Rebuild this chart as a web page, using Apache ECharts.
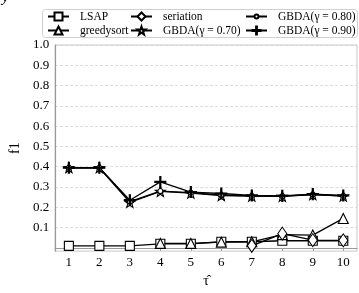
<!DOCTYPE html>
<html><head><meta charset="utf-8">
<script src="https://cdn.jsdelivr.net/npm/echarts@6/dist/echarts.min.js"></script>
<style>html,body{margin:0;padding:0;background:#fff}#c{width:359px;height:293px}</style>
</head><body><div id="c"></div>
<script>
const xValues = [1,2,3,4,5,6,7,8,9,10];
const yTicks = [0.1,0.2,0.3,0.4,0.5,0.6,0.7,0.8,0.9,1.0];
const lsap      = [0.01,0.01,0.01,0.02,0.02,0.03,0.03,0.035,0.035,0.035];
const greedy    = [null,null,null,0.022,0.022,0.028,0.03,0.065,0.063,0.145];
const seriation = [null,null,null,null,null,null,0.01,0.07,0.038,0.037];
const gbda70    = [0.395,0.395,0.224,0.278,0.270,0.258,0.255,0.254,0.262,0.255];
const gbda80    = [0.395,0.395,0.228,0.280,0.272,0.260,0.256,0.255,0.263,0.256];
const gbda90    = [0.395,0.395,0.235,0.325,0.275,0.268,0.258,0.256,0.265,0.258];

const STAR = 'path://M100,0 L123.5,67.6 L195.1,69.1 L138,112.4 L158.8,180.9 L100,140 L41.2,180.9 L62,112.4 L4.9,69.1 L76.5,67.6 Z';
const PLUS = 'path://M45,0 L55,0 L55,45 L100,45 L100,55 L55,55 L55,100 L45,100 L45,55 L0,55 L0,45 L45,45 Z';
const FONT = 'Liberation Serif';

function pairs(arr){ return xValues.map((x,i)=>[x,arr[i]]); }
function mk(name, arr, symbol, size, fill){
  return {
    name, type:'line', data:pairs(arr), symbol, symbolSize:size,
    showAllSymbol:true, connectNulls:false,
    lineStyle:{color:'#000', width:1.3},
    itemStyle:{color: fill||'#fff', borderColor:'#000', borderWidth:1.1},
    emphasis:{disabled:true}, animation:false
  };
}
const chart = echarts.init(document.getElementById('c'), null, {renderer:'canvas'});
const legendBase = {orient:'vertical', top:10, itemWidth:21, itemHeight:10, itemGap:1,
  textStyle:{fontFamily:FONT, fontSize:11.5, color:'#000', padding:[0,0,0,6], lineHeight:13}, padding:0};
chart.setOption({
  animation:false,
  grid:{left:43, right:2, top:45, bottom:26, show:true, borderColor:'#c8c8c8', borderWidth:1},
  legend:[
    Object.assign({}, legendBase, {left:47, data:['LSAP','greedysort']}),
    Object.assign({}, legendBase, {left:130, data:['seriation','GBDA(γ = 0.70)']}),
    Object.assign({}, legendBase, {left:245, itemHeight:5, data:['GBDA(γ = 0.80)']}),
    Object.assign({}, legendBase, {left:245, top:24, data:['GBDA(γ = 0.90)']})
  ],
  graphic:[
    {type:'rect', shape:{x:42.5, y:9.5, width:315, height:28, r:3}, style:{fill:'rgba(255,255,255,0.8)', stroke:'#d0d0d0', lineWidth:1}, z:-1},
    {type:'text', left:2, top:-9, style:{text:'y', font:'italic 15px "Liberation Serif"', fill:'#000'}}
  ],
  xAxis:{type:'value', min:0.55, max:10.45,
    name:'τ\u0302', nameLocation:'middle', nameGap:15,
    nameTextStyle:{fontFamily:FONT, fontSize:14, color:'#000'},
    axisLine:{lineStyle:{color:'#999', width:1.2}},
    axisTick:{show:true, customValues:xValues, length:3, lineStyle:{color:'#999'}},
    axisLabel:{customValues:xValues, fontFamily:FONT, fontSize:13, color:'#000', margin:5},
    splitLine:{show:false}},
  yAxis:{type:'value', min:-0.016, max:1.0,
    name:'f1', nameLocation:'middle', nameGap:27, nameRotate:90,
    nameTextStyle:{fontFamily:FONT, fontSize:14, color:'#000'},
    axisLine:{show:true, lineStyle:{color:'#999', width:1.2}},
    axisTick:{show:false, customValues:yTicks},
    axisLabel:{customValues:yTicks, fontFamily:FONT, fontSize:13, color:'#000', margin:6,
      formatter:v=>v.toFixed(1)},
    splitLine:{show:true, lineStyle:{color:'#d3d3d3', type:[3,2], width:0.8}}},
  series:[
    mk('LSAP', lsap, 'rect', 9),
    mk('greedysort', greedy, 'triangle', 10),
    mk('seriation', seriation, 'diamond', [9,13]),
    mk('GBDA(γ = 0.70)', gbda70, STAR, 10),
    mk('GBDA(γ = 0.80)', gbda80, 'circle', 5),
    mk('GBDA(γ = 0.90)', gbda90, PLUS, 11, '#000')
  ]
});
</script></body></html>
